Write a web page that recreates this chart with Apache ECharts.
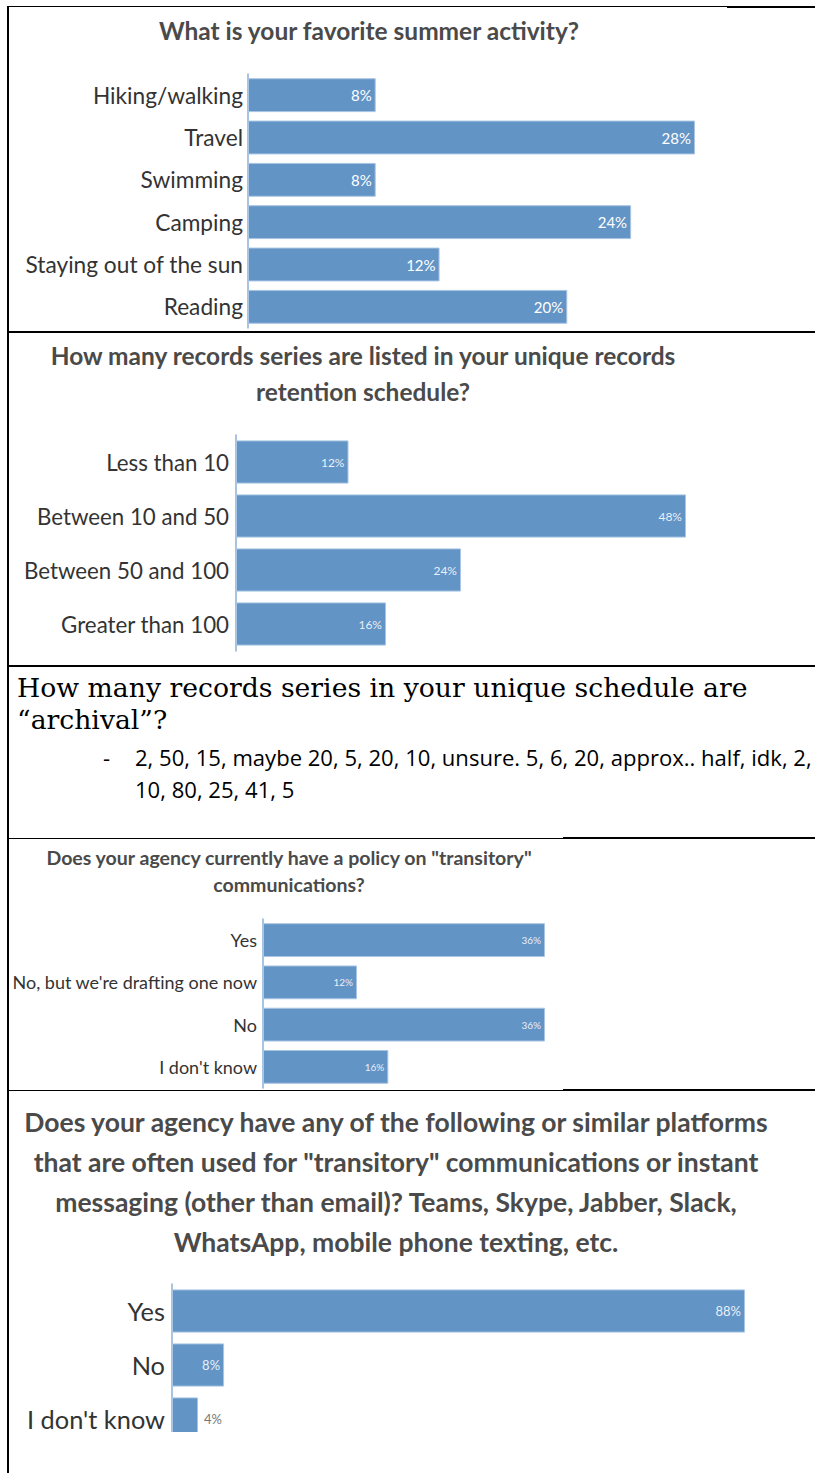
<!DOCTYPE html>
<html>
<head>
<meta charset="utf-8">
<script src="https://cdn.jsdelivr.net/npm/echarts@6/dist/echarts.min.js"></script>
<style>
  html, body { margin:0; padding:0; background:#fff; }
  #wrap { position:relative; width:815px; height:1473px; overflow:hidden; }
  #chart { position:absolute; left:0; top:0; width:815px; height:1473px; }
  .ln { position:absolute; background:#000; }
  #q3 { position:absolute; left:17px; top:672px; font-family:'DejaVu Serif', serif; font-size:25px; line-height:32px; color:#000; white-space:nowrap; }
  #q3list { position:absolute; left:0; top:741px; font-family:'Open Sans', sans-serif; font-size:17px; line-height:32px; color:#000; }
  #q3list .dash { position:absolute; left:103px; top:0; }
  #q3list .txt { position:absolute; left:135px; top:0; white-space:nowrap; }
</style>
</head>
<body>
<div id="wrap">
  <div id="chart"></div>
  <div class="ln" style="left:7px;top:6px;width:2px;height:1467px"></div>
  <div class="ln" style="left:7px;top:6px;width:720px;height:1px"></div>
  <div class="ln" style="left:727px;top:6px;width:88px;height:2px"></div>
  <div class="ln" style="left:7px;top:331px;width:808px;height:2px"></div>
  <div class="ln" style="left:7px;top:665px;width:808px;height:2px"></div>
  <div class="ln" style="left:7px;top:838px;width:556px;height:1px"></div>
  <div class="ln" style="left:563px;top:837px;width:252px;height:2px"></div>
  <div class="ln" style="left:7px;top:1090px;width:556px;height:1px"></div>
  <div class="ln" style="left:563px;top:1089px;width:252px;height:2px"></div>
  <div id="q3"></div>
  <div id="q3list"><div class="dash">-</div><div class="txt" id="q3txt"></div></div>
</div>
<script>
// ---- data ----
const q1Title = 'What is your favorite summer activity?';
const q1Categories = ['Hiking/walking', 'Travel', 'Swimming', 'Camping', 'Staying out of the sun', 'Reading'];
const q1Values = [8, 28, 8, 24, 12, 20];

const q2Title = 'How many records series are listed in your unique records\nretention schedule?';
const q2Categories = ['Less than 10', 'Between 10 and 50', 'Between 50 and 100', 'Greater than 100'];
const q2Values = [12, 48, 24, 16];

const q3Title = 'How many records series in your unique schedule are\n\u201Carchival\u201D?';
const q3Answers = ['2, 50, 15, maybe 20, 5, 20, 10, unsure. 5, 6, 20, approx.. half, idk, 2,', '10, 80, 25, 41, 5'];

const q4Title = 'Does your agency currently have a policy on "transitory"\ncommunications?';
const q4Categories = ['Yes', "No, but we're drafting one now", 'No', "I don't know"];
const q4Values = [36, 12, 36, 16];

const q5Title = 'Does your agency have any of the following or similar platforms\nthat are often used for "transitory" communications or instant\nmessaging (other than email)? Teams, Skype, Jabber, Slack,\nWhatsApp, mobile phone texting, etc.';
const q5Categories = ['Yes', 'No', "I don't know"];
const q5Values = [88, 8, 4];

// ---- font fitting helper (sizes text so that its width matches the reference) ----
const FONT = 'Lato, "Source Sans Pro", sans-serif';
const mctx = document.createElement('canvas').getContext('2d');
function fitSize(text, weight, family, targetWidth) {
  mctx.font = weight + ' 100px ' + family;
  return +(100 * targetWidth / mctx.measureText(text).width).toFixed(2);
}
const firstLine = t => t.split('\n')[0];
const widest = (arr, weight, family) => {
  mctx.font = weight + ' 100px ' + family;
  return arr.reduce((a, b) => mctx.measureText(b).width > mctx.measureText(a).width ? b : a);
};

// ---- text section ----
const q3El = document.getElementById('q3');
q3El.innerHTML = q3Title.replace('\n', '<br>');
q3El.style.fontSize = fitSize(firstLine(q3Title), 'normal', '"DejaVu Serif"', 731) + 'px';
const q3t = document.getElementById('q3txt');
q3t.innerHTML = q3Answers.join('<br>');
document.getElementById('q3list').style.fontSize = fitSize(q3Answers[0], 'normal', '"Open Sans"', 677) + 'px';

// ---- chart ----
const BAR = '#6394c6';
const AXIS = '#8db1da';
const TITLE_C = '#4a4a4a';
const LABEL_C = '#333333';

const grids = [
  { left: 248, top: 74, width: 447, height: 254 },
  { left: 236, top: 435, width: 450, height: 216 },
  { left: 263, top: 919, width: 282, height: 169 },
  { left: 172, top: 1284, width: 573, height: 162 }
];
const sets = [
  { cats: q1Categories, vals: q1Values, max: 28, catW: 218, catMargin: 5, valSize: 15, valColor: '#ffffff' },
  { cats: q2Categories, vals: q2Values, max: 48, catW: 205, catMargin: 7, valSize: 12, valColor: 'rgba(255,255,255,0.88)' },
  { cats: q4Categories, vals: q4Values, max: 36, catW: 245, catMargin: 6, valSize: 10, valColor: 'rgba(255,255,255,0.88)' },
  { cats: q5Categories, vals: q5Values, max: 88, catW: 138, catMargin: 7, valSize: 13, valColor: 'rgba(255,255,255,0.88)' }
];

const xAxis = [], yAxis = [], series = [];
sets.forEach((s, i) => {
  const catSize = fitSize(widest(s.cats, 'normal', FONT), 'normal', FONT, s.catW);
  xAxis.push({ gridIndex: i, type: 'value', min: 0, max: s.max, show: false });
  yAxis.push({
    gridIndex: i, type: 'category', data: s.cats, inverse: true,
    axisLine: { show: true, lineStyle: { color: AXIS, width: 1.5 } },
    axisTick: { show: false }, splitLine: { show: false },
    axisLabel: { fontFamily: FONT, fontSize: catSize, color: LABEL_C, margin: s.catMargin }
  });
  series.push({
    type: 'bar', xAxisIndex: i, yAxisIndex: i, barCategoryGap: '20%',
    itemStyle: { color: BAR, borderColor: '#a9c5e4', borderWidth: 1 },
    label: { show: true, position: 'insideRight', distance: 4, formatter: '{c}%',
      fontFamily: FONT, fontSize: s.valSize, color: s.valColor },
    data: s.vals.map(v => v < 5
      ? { value: v, label: { position: 'right', color: '#777', distance: 6 } }
      : v),
    silent: true, animation: false
  });
});

const titleText = (txt, x, y, width, lh) => ({
  type: 'text', x: x, y: y, silent: true,
  style: { text: txt, fill: TITLE_C,
    font: 'bold ' + fitSize(firstLine(txt), 'bold', FONT, width) + 'px ' + FONT,
    textAlign: 'center', textVerticalAlign: 'middle', lineHeight: lh }
});

const chart = echarts.init(document.getElementById('chart'), null, { renderer: 'svg' });
chart.setOption({
  animation: false,
  grid: grids.map(g => Object.assign({ containLabel: false }, g)),
  xAxis: xAxis,
  yAxis: yAxis,
  series: series,
  graphic: [
    titleText(q1Title, 369, 30, 422, 24),
    titleText(q2Title, 363, 373, 627, 36),
    titleText(q4Title, 289, 871, 488, 27),
    titleText(q5Title, 396, 1182, 748, 40),
    { type: 'rect', z: 100, silent: true, shape: { x: 168, y: 1432, width: 300, height: 30 }, style: { fill: '#ffffff' } }
  ]
});
</script>
</body>
</html>
